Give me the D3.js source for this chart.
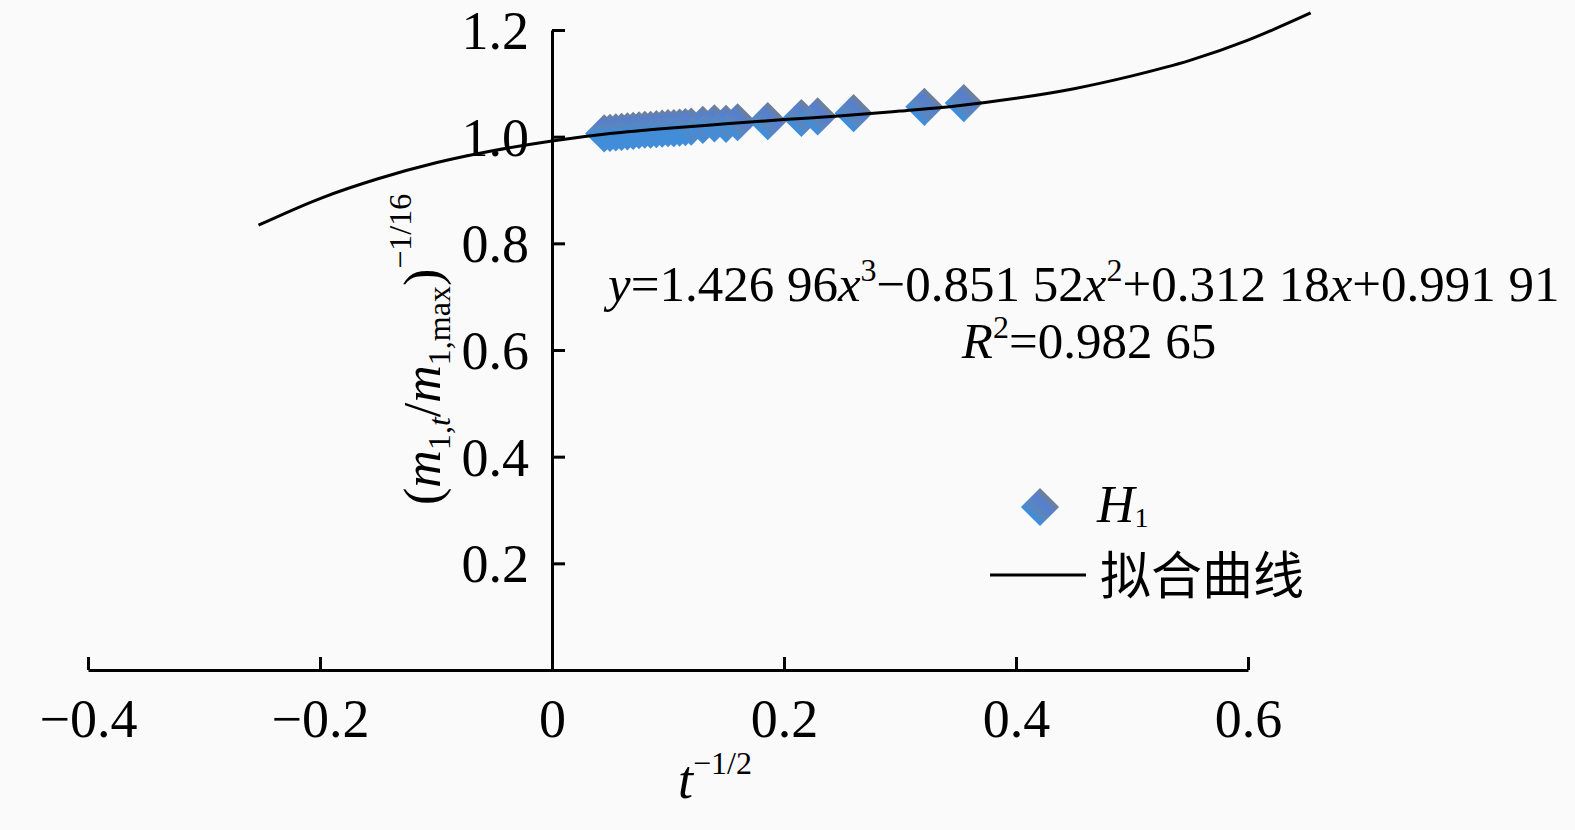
<!DOCTYPE html>
<html>
<head>
<meta charset="utf-8">
<script src="https://cdn.jsdelivr.net/npm/d3@7"></script>
<style>
  body { margin: 0; background: #fafafa; }
  svg text { font-family: "Liberation Serif", "Times New Roman", serif; fill: #000; }
</style>
</head>
<body>
<div id="chart"></div>
<script>
// Measured points (H1)
var ptX = [0.045, 0.050, 0.055, 0.060, 0.065, 0.070, 0.075, 0.080, 0.085, 0.090, 0.095, 0.100, 0.105,
           0.110, 0.115, 0.120, 0.130, 0.140, 0.150, 0.160, 0.186, 0.215, 0.229, 0.260, 0.321, 0.355]
var ptY = [1.006, 1.007, 1.008, 1.009, 1.010, 1.011, 1.012, 1.013, 1.013, 1.014, 1.015, 1.016, 1.016,
           1.017, 1.018, 1.019, 1.022, 1.025, 1.024, 1.027, 1.029, 1.035, 1.038, 1.044, 1.056, 1.063]

// Fitted curve
var fitX = [-0.253, -0.20, -0.15, -0.10, -0.05, 0, 0.05, 0.10, 0.15, 0.20, 0.25, 0.30,
            0.35, 0.40, 0.45, 0.50, 0.55, 0.60, 0.654]
var fitY = [0.834, 0.884, 0.921, 0.951, 0.974, 0.992, 1.006, 1.016, 1.024, 1.032, 1.039, 1.048,
            1.058, 1.072, 1.090, 1.114, 1.143, 1.181, 1.232]

var xTicks = [-0.4, -0.2, 0, 0.2, 0.4, 0.6]
var yTicks = [0.2, 0.4, 0.6, 0.8, 1.0, 1.2]

var width = 1575, height = 830

var svg = d3.select("#chart")
    .append("svg")
    .attr("width", width)
    .attr("height", height)

// Scales
var x = d3.scaleLinear().domain([-0.4, 0.6]).range([88, 1248])
var y = d3.scaleLinear().domain([0, 1.2]).range([670, 30])

var defs = svg.append("defs")
var grad = defs.append("linearGradient")
    .attr("id", "dia")
    .attr("x1", 0).attr("y1", 0).attr("x2", 0).attr("y2", 1)
grad.append("stop").attr("offset", "0%").attr("stop-color", "#6f8093")
grad.append("stop").attr("offset", "30%").attr("stop-color", "#557fcf")
grad.append("stop").attr("offset", "65%").attr("stop-color", "#5b86bd")
grad.append("stop").attr("offset", "100%").attr("stop-color", "#3a8fe0")

// X axis (at y = 0)
var xAxis = svg.append("g")
    .attr("transform", "translate(0," + y(0) + ")")
    .call(d3.axisBottom(x)
        .tickValues(xTicks)
        .tickSizeInner(-13)
        .tickSizeOuter(0)
        .tickPadding(29)
        .tickFormat(function(d) { return d === 0 ? "0" : d3.format(".1f")(d) }))
xAxis.selectAll("path, line").attr("stroke", "#000").attr("stroke-width", 3)
xAxis.selectAll("text").attr("font-size", "54px")

// Y axis (at x = 0)
var yAxis = svg.append("g")
    .attr("transform", "translate(" + x(0) + ",0)")
    .call(d3.axisLeft(y)
        .tickValues(yTicks)
        .tickSizeInner(-13)
        .tickSizeOuter(0)
        .tickPadding(23)
        .tickFormat(d3.format(".1f")))
yAxis.selectAll("path, line").attr("stroke", "#000").attr("stroke-width", 3)
yAxis.selectAll("text").attr("font-size", "54px").attr("dy", "0.34em")

// Fitted curve
var line = d3.line()
    .x(function(d) { return x(d[0]) })
    .y(function(d) { return y(d[1]) })
    .curve(d3.curveCatmullRom)

// Diamonds
var diamond = d3.symbol().type(d3.symbolSquare).size(27 * 27)
svg.append("g")
    .selectAll("path")
    .data(d3.zip(ptX, ptY))
    .enter()
    .append("path")
    .attr("d", diamond)
    .attr("transform", function(d) { return "translate(" + x(d[0]) + "," + y(d[1]) + ") rotate(45)" })
    .attr("fill", "url(#dia)")

svg.append("path")
    .datum(d3.zip(fitX, fitY))
    .attr("d", line)
    .attr("fill", "none")
    .attr("stroke", "#000")
    .attr("stroke-width", 3)

// Equation
var eq = svg.append("text")
    .attr("x", 608)
    .attr("y", 301)
    .attr("font-size", "51px")
eq.append("tspan").attr("font-style", "italic").text("y")
eq.append("tspan").text("=1.426 96")
eq.append("tspan").attr("font-style", "italic").text("x")
eq.append("tspan").attr("font-size", "32px").attr("dy", -20).text("3")
eq.append("tspan").attr("dy", 20).text("\u22120.851 52")
eq.append("tspan").attr("font-style", "italic").text("x")
eq.append("tspan").attr("font-size", "32px").attr("dy", -20).text("2")
eq.append("tspan").attr("dy", 20).text("+0.312 18")
eq.append("tspan").attr("font-style", "italic").text("x")
eq.append("tspan").text("+0.991 91")

var r2 = svg.append("text")
    .attr("x", 1089)
    .attr("y", 358)
    .attr("text-anchor", "middle")
    .attr("font-size", "51px")
r2.append("tspan").attr("font-style", "italic").text("R")
r2.append("tspan").attr("font-size", "32px").attr("dy", -20).text("2")
r2.append("tspan").attr("dy", 20).text("=0.982 65")

// Axis titles
var xt = svg.append("text")
    .attr("x", 678)
    .attr("y", 798)
    .attr("font-size", "54px")
xt.append("tspan").attr("font-style", "italic").text("t")
xt.append("tspan").attr("font-size", "32px").attr("dy", -24).text("\u22121/2")

var yt = svg.append("text")
    .attr("transform", "translate(440,505) rotate(-90)")
    .attr("font-size", "52px")
yt.append("tspan").text("(")
yt.append("tspan").attr("font-style", "italic").text("m")
yt.append("tspan").attr("font-size", "32px").attr("dy", 10).text("1,")
yt.append("tspan").attr("font-size", "32px").attr("font-style", "italic").text("t")
yt.append("tspan").attr("dy", -10).text("/")
yt.append("tspan").attr("font-style", "italic").text("m")
yt.append("tspan").attr("font-size", "32px").attr("dy", 10).text("1,max")
yt.append("tspan").attr("dy", -10).text(")")
yt.append("tspan").attr("font-size", "32px").attr("dy", -29).text("\u22121/16")

// Legend
var leg = svg.append("g")
leg.append("path")
    .attr("d", diamond)
    .attr("transform", "translate(1040,507) rotate(45)")
    .attr("fill", "url(#dia)")
var lh = leg.append("text")
    .attr("x", 1097)
    .attr("y", 522)
    .attr("font-size", "52px")
lh.append("tspan").attr("font-style", "italic").text("H")
lh.append("tspan").attr("font-size", "28px").attr("dy", 5).text("1")

leg.append("line")
    .attr("x1", 990).attr("x2", 1086)
    .attr("y1", 575).attr("y2", 575)
    .attr("stroke", "#000")
    .attr("stroke-width", 3)
leg.append("text")
    .attr("x", 1100)
    .attr("y", 594)
    .attr("font-size", "51px")
    .style("font-family", "'Noto Sans CJK SC', sans-serif")
    .text("拟合曲线")
</script>
</body>
</html>
